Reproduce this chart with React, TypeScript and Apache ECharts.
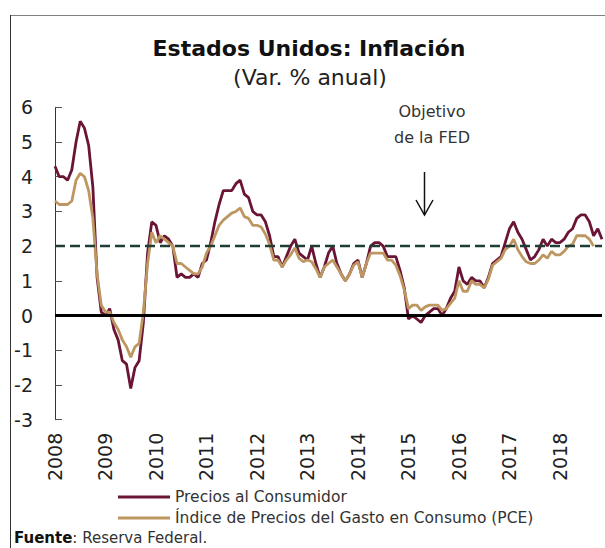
import React, { useEffect, useRef } from "react";
import * as echarts from "echarts";

const years = ["2008", "2009", "2010", "2011", "2012", "2013", "2014", "2015", "2016", "2017", "2018"];
const monthCodes = ["01", "02", "03", "04", "05", "06", "07", "08", "09", "10", "11", "12"];

// Precios al Consumidor (CPI), var. % anual, Jan 2008 - Nov 2018
const cpi = [
  4.3, 4.0, 4.0, 3.9, 4.2, 5.0, 5.6, 5.4, 4.9, 3.7, 1.1, 0.1,
  0.0, 0.2, -0.4, -0.7, -1.3, -1.4, -2.1, -1.5, -1.3, -0.2, 1.8, 2.7,
  2.6, 2.1, 2.3, 2.2, 2.0, 1.1, 1.2, 1.1, 1.1, 1.2, 1.1, 1.5,
  1.6, 2.1, 2.7, 3.2, 3.6, 3.6, 3.6, 3.8, 3.9, 3.5, 3.4, 3.0,
  2.9, 2.9, 2.7, 2.3, 1.7, 1.7, 1.4, 1.7, 2.0, 2.2, 1.8, 1.7,
  1.6, 2.0, 1.5, 1.1, 1.4, 1.8, 2.0, 1.5, 1.2, 1.0, 1.2, 1.5,
  1.6, 1.1, 1.5, 2.0, 2.1, 2.1, 2.0, 1.7, 1.7, 1.7, 1.3, 0.8,
  -0.1, 0.0, -0.1, -0.2, 0.0, 0.1, 0.2, 0.2, 0.0, 0.2, 0.5, 0.7,
  1.4, 1.0, 0.9, 1.1, 1.0, 1.0, 0.8, 1.1, 1.5, 1.6, 1.7, 2.1,
  2.5, 2.7, 2.4, 2.2, 1.9, 1.6, 1.7, 1.9, 2.2, 2.0, 2.2, 2.1,
  2.1, 2.2, 2.4, 2.5, 2.8, 2.9, 2.9, 2.7, 2.3, 2.5, 2.2,
];

// Índice de Precios del Gasto en Consumo (PCE), Jan 2008 - Sep 2018
const pce = [
  3.3, 3.2, 3.2, 3.2, 3.3, 3.9, 4.1, 4.0, 3.6, 2.8, 1.2, 0.3,
  0.1, 0.1, -0.2, -0.4, -0.7, -0.9, -1.2, -0.9, -0.8, 0.1, 1.5, 2.4,
  2.1, 2.3, 2.2, 2.1, 2.0, 1.5, 1.5, 1.4, 1.3, 1.2, 1.2, 1.4,
  1.8, 2.0, 2.3, 2.6, 2.75, 2.85, 2.95, 3.0, 3.1, 2.85, 2.8, 2.6,
  2.6, 2.55, 2.35, 2.05, 1.6, 1.6, 1.4, 1.6, 1.75, 1.95, 1.65, 1.55,
  1.6, 1.55, 1.35, 1.1, 1.4, 1.5, 1.6, 1.4, 1.2, 1.0, 1.2, 1.45,
  1.55, 1.1, 1.5, 1.8, 1.8, 1.8, 1.8, 1.6, 1.6, 1.45, 1.15, 0.75,
  0.2, 0.3, 0.3, 0.15, 0.25, 0.3, 0.3, 0.3, 0.15, 0.2, 0.35, 0.5,
  1.0, 0.7, 0.7, 1.0, 0.9, 0.9, 0.8, 1.05, 1.45, 1.55, 1.65, 1.9,
  2.0, 2.2, 1.9, 1.7, 1.55, 1.5, 1.5, 1.6, 1.75, 1.65, 1.85, 1.75,
  1.75, 1.85, 2.0, 2.05, 2.3, 2.3, 2.3, 2.2, 2.0,
];

const seriesNames = ["Precios al Consumidor", "Índice de Precios del Gasto en Consumo (PCE)"];
const fedTarget = 2;
const yTicks = { min: -3, max: 6, interval: 1 };

const categories = years
  .flatMap((y) => monthCodes.map((m) => `${y}-${m}`))
  .slice(0, cpi.length);

const FONT = "DejaVu Sans";

export default function App() {
  const ref = useRef<HTMLDivElement>(null);

  useEffect(() => {
    document.body.style.margin = "0";
    if (!ref.current) return;
    const chart = echarts.init(ref.current, null, { renderer: "svg" });
    chart.setOption({
      animation: false,
      backgroundColor: "#ffffff",
      title: {
        left: 14,
        top: 530,
        padding: 0,
        text: "{b|Fuente}{r|: Reserva Federal.}",
        textStyle: {
          rich: {
            b: { fontFamily: FONT, fontSize: 15, fontWeight: "bold", color: "#111" },
            r: { fontFamily: FONT, fontSize: 15, fontWeight: "normal", color: "#333" },
          },
        },
      },
      legend: {
        data: seriesNames,
        orient: "vertical",
        left: 118,
        top: 489,
        padding: 0,
        icon: "rect",
        itemWidth: 52,
        itemHeight: 3,
        itemGap: 5,
        textStyle: { fontFamily: FONT, fontSize: 15.5, color: "#333" },
      },
      grid: { left: 55, top: 107.3, width: 547, height: 312.4, containLabel: false },
      xAxis: {
        type: "category",
        data: categories,
        boundaryGap: false,
        axisLine: { show: false, onZero: false },
        axisTick: { show: false },
        splitLine: { show: false },
        axisLabel: {
          interval: 11,
          rotate: 90,
          margin: 13,
          fontFamily: FONT,
          fontSize: 19,
          color: "#222",
          formatter: (v: string) => v.slice(0, 4),
        },
      },
      yAxis: {
        type: "value",
        min: yTicks.min,
        max: yTicks.max,
        interval: yTicks.interval,
        axisLine: { show: true, lineStyle: { color: "#333", width: 1 } },
        axisTick: { show: true, inside: true, length: 7, lineStyle: { color: "#555" } },
        splitLine: { show: false },
        axisLabel: { margin: 22, fontFamily: FONT, fontSize: 19, color: "#222" },
      },
      series: [
        {
          name: "refs",
          type: "line",
          data: [],
          silent: true,
          z: 1,
          markLine: {
            silent: true,
            symbol: "none",
            label: { show: false },
            animation: false,
            data: [
              { yAxis: fedTarget, lineStyle: { color: "#1e3d34", width: 2.3, type: [10, 5] } },
              { yAxis: 0, lineStyle: { color: "#000", width: 3, type: "solid" } },
            ],
          },
        },
        {
          name: seriesNames[0],
          type: "line",
          data: cpi,
          symbol: "none",
          z: 3,
          lineStyle: { color: "#6a1436", width: 2.8 },
          itemStyle: { color: "#6a1436" },
        },
        {
          name: seriesNames[1],
          type: "line",
          data: pce,
          symbol: "none",
          z: 4,
          lineStyle: { color: "#bd9660", width: 2.8 },
          itemStyle: { color: "#bd9660" },
        },
      ],
      graphic: [
        { type: "line", shape: { x1: 10, y1: 15.5, x2: 605, y2: 15.5 }, style: { stroke: "#808080", lineWidth: 1 } },
        { type: "line", shape: { x1: 10.5, y1: 15, x2: 10.5, y2: 548 }, style: { stroke: "#333", lineWidth: 1 } },
        {
          type: "text",
          x: 309,
          y: 48,
          style: {
            text: "Estados Unidos: Inflación",
            fontFamily: FONT,
            fontSize: 22,
            fontWeight: "bold",
            fill: "#111",
            textAlign: "center",
            textVerticalAlign: "middle",
            align: "center",
            verticalAlign: "middle",
          },
        },
        {
          type: "text",
          x: 310,
          y: 77,
          style: {
            text: "(Var. % anual)",
            fontFamily: FONT,
            fontSize: 22,
            fill: "#222",
            textAlign: "center",
            textVerticalAlign: "middle",
            align: "center",
            verticalAlign: "middle",
          },
        },
        {
          type: "text",
          x: 432,
          y: 124,
          style: {
            text: "Objetivo\nde la FED",
            fontFamily: FONT,
            fontSize: 16,
            lineHeight: 26,
            fill: "#333",
            textAlign: "center",
            textVerticalAlign: "middle",
            align: "center",
            verticalAlign: "middle",
          },
        },
        { type: "line", shape: { x1: 424.5, y1: 172, x2: 424.5, y2: 215 }, style: { stroke: "#111", lineWidth: 1.5 } },
        {
          type: "polyline",
          shape: { points: [[416, 200], [424.5, 215], [433, 200]] },
          style: { stroke: "#111", lineWidth: 1.5, fill: null },
        },
      ],
    });
    return () => chart.dispose();
  }, []);

  return <div ref={ref} style={{ width: 605, height: 548 }} />;
}
